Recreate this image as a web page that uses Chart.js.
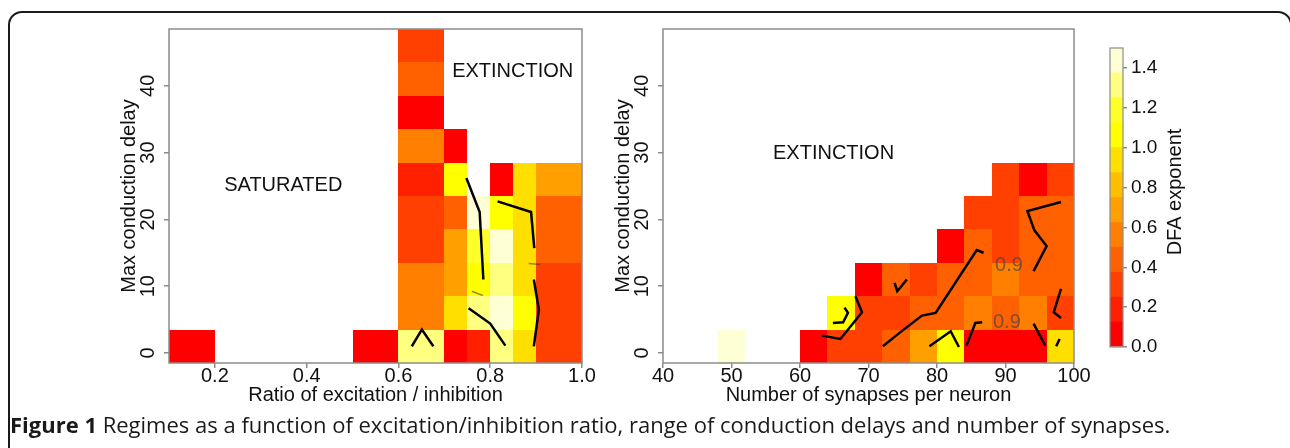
<!DOCTYPE html>
<html>
<head>
<meta charset="utf-8">
<script src="https://cdn.jsdelivr.net/npm/chart.js@4.4.1/dist/chart.umd.min.js"></script>
<style>
  html, body { margin: 0; padding: 0; background: #fff; }
  body { width: 1290px; height: 448px; position: relative; overflow: hidden; }
  .frame { position: absolute; left: 8px; top: 11px; width: 1284px; height: 480px;
           border: 2px solid #1a1a1a; border-radius: 14px; box-sizing: border-box; }
  canvas { position: absolute; }
  #caption { position: absolute; left: 10px; top: 409px; font-family: 'Open Sans', sans-serif;
             font-size: 22px; line-height: 30px; color: #1a1a1a; white-space: nowrap; }
  #caption b { font-weight: 700; }
</style>
</head>
<body>
<div class="frame"></div>
<canvas id="left" width="510" height="400" style="left:90px;top:16px"></canvas>
<canvas id="right" width="500" height="400" style="left:590px;top:16px"></canvas>
<canvas id="bar" width="120" height="340" style="left:1090px;top:30px"></canvas>
<div id="caption"><b>Figure 1</b> Regimes as a function of excitation/inhibition ratio, range of conduction delays and number of synapses.</div>

<script>
// heat.colors(12) and its breaks on the DFA exponent
var dfaPalette = ['#FF0000', '#FF2000', '#FF4000', '#FF6000', '#FF8000', '#FF9F00',
                  '#FFBF00', '#FFDF00', '#FFFF00', '#FFFF2A', '#FFFF80', '#FFFFD5'];
var dfaBreaks = [0, 0.125, 0.25, 0.375, 0.5, 0.625, 0.75, 0.875, 1.0, 1.125, 1.25, 1.375, 1.5];
var dfaTicks = [0, 0.2, 0.4, 0.6, 0.8, 1.0, 1.2, 1.4];
var dfaTickLabels = ['0.0', '0.2', '0.4', '0.6', '0.8', '1.0', '1.2', '1.4'];

// rows of both panels (max conduction delay), bottom to top
var delayEdges = [-1.5, 3.5, 8.5, 13.5, 18.5, 23.5, 28.5, 33.5, 38.5, 43.5, 48.5];
var delayTicks = [0, 10, 20, 30, 40];

// left panel: ratio of excitation / inhibition
var ratioEdges = [0.1, 0.2, 0.5, 0.6, 0.7, 0.75, 0.8, 0.85, 0.9, 1.0];
var ratioDfa = [
    [0.06],
    [],
    [0.06],
    [1.31, 0.56, 0.56, 0.31, 0.31, 0.19, 0.56, 0.06, 0.44, 0.31],
    [0.06, 0.94, 0.69, 0.69, 0.44, 1.06, 0.06],
    [0.19, 1.31, 1.1, 1.19, 1.44],
    [1.31, 1.44, 1.31, 1.44, 1.06, 0.06],
    [0.94, 1.06, 0.94, 0.94, 0.94, 0.94],
    [0.31, 0.31, 0.31, 0.44, 0.44, 0.7]
];
var ratioTicks = [0.2, 0.4, 0.6, 0.8, 1.0];
var ratioTickLabels = ['0.2', '0.4', '0.6', '0.8', '1.0'];

// right panel: number of synapses per neuron
var synapseEdges = [48, 52, 60, 64, 68, 72, 76, 80, 84, 88, 92, 96, 100];
var synapseDfa = [
    [1.44],
    [],
    [0.06],
    [0.31, 1.06],
    [0.31, 0.31, 0.06],
    [0.44, 0.31, 0.44],
    [0.69, 0.44, 0.31],
    [1.06, 0.44, 0.44, 0.1],
    [0.06, 0.56, 0.44, 0.44, 0.31],
    [0.06, 0.44, 0.56, 0.31, 0.31, 0.31],
    [0.06, 0.56, 0.44, 0.44, 0.44, 0.1],
    [0.94, 0.31, 0.44, 0.44, 0.44, 0.31]
];
var synapseTicks = [40, 50, 60, 70, 80, 90, 100];
var synapseTickLabels = ['40', '50', '60', '70', '80', '90', '100'];

// 0.9 contour pieces
var ratioContours = [
    [{x: 0.748, y: 26.2}, {x: 0.777, y: 21.1}, {x: 0.785, y: 11}],
    [{x: 0.816, y: 22.7}, {x: 0.889, y: 21.1}, {x: 0.896, y: 15.7}],
    [{x: 0.895, y: 11}, {x: 0.906, y: 6.5}, {x: 0.895, y: 1}],
    [{x: 0.753, y: 6.7}, {x: 0.8, y: 4.4}, {x: 0.833, y: 1.1}],
    [{x: 0.629, y: 1}, {x: 0.651, y: 3.5}, {x: 0.676, y: 1}]
];
var ratioFaint = [
    [{x: 0.884, y: 13.4}, {x: 0.909, y: 13.25}],
    [{x: 0.76, y: 9.25}, {x: 0.784, y: 8.6}]
];
var synapseContours = [
    [{x: 63.2, y: 2.6}, {x: 65.9, y: 2.1}, {x: 69.05, y: 6.1}, {x: 68.1, y: 8.5}],
    [{x: 64.8, y: 4.5}, {x: 66.3, y: 4.6}, {x: 67.0, y: 6.0}, {x: 66.5, y: 6.8}],
    [{x: 72.1, y: 1}, {x: 74.2, y: 2.75}, {x: 77.8, y: 5.6}, {x: 79.8, y: 6}, {x: 85.8, y: 15.4}, {x: 86.8, y: 15}],
    [{x: 73.8, y: 10.5}, {x: 74.2, y: 9.25}, {x: 75.6, y: 11}],
    [{x: 94.1, y: 12.25}, {x: 96.0, y: 16}, {x: 94.2, y: 18.4}, {x: 93.2, y: 21.25}, {x: 98.1, y: 22.6}],
    [{x: 98.1, y: 9.6}, {x: 97.05, y: 6.1}, {x: 98.1, y: 5.25}],
    [{x: 78.9, y: 1}, {x: 82.0, y: 3.25}, {x: 83.2, y: 0.9}],
    [{x: 84.3, y: 1.1}, {x: 85.6, y: 4.5}, {x: 86.6, y: 4.6}],
    [{x: 94.1, y: 4.4}, {x: 95.8, y: 1.1}],
    [{x: 97.4, y: 1}, {x: 97.9, y: 2.1}]
];
var synapseContourLabels = [
    {text: '0.9', x: 90.5, y: 13.1},
    {text: '0.9', x: 90.2, y: 4.5}
];

var ratioNotes = [
    {text: 'SATURATED', x: 0.349, y: 25},
    {text: 'EXTINCTION', x: 0.849, y: 42.1}
];
var synapseNotes = [
    {text: 'EXTINCTION', x: 64.9, y: 29.9}
];

var FONT = "'Liberation Sans', Arial, sans-serif";
var AXIS_GREY = '#8c8c8c';
Chart.defaults.font.family = FONT;
Chart.defaults.color = '#111';

function dfaColor(v) {
    for (var k = 0; k < dfaPalette.length; k++) {
        if (v < dfaBreaks[k + 1]) return dfaPalette[k];
    }
    return dfaPalette[dfaPalette.length - 1];
}

function cellPlugin(xEdges, columns, notes, contourLabels) {
    return {
        id: 'cells',
        beforeDatasetsDraw: function(chart) {
            var ctx = chart.ctx, xs = chart.scales.x, ys = chart.scales.y;
            ctx.save();
            columns.forEach(function(col, i) {
                var x0 = Math.round(xs.getPixelForValue(xEdges[i]));
                var x1 = Math.round(xs.getPixelForValue(xEdges[i + 1]));
                col.forEach(function(v, j) {
                    if (v == null) return;
                    var y0 = Math.round(ys.getPixelForValue(delayEdges[j + 1]));
                    var y1 = Math.round(ys.getPixelForValue(delayEdges[j]));
                    ctx.fillStyle = dfaColor(v);
                    ctx.fillRect(x0, y0, x1 - x0, y1 - y0);
                });
            });
            ctx.restore();
        },
        afterDatasetsDraw: function(chart) {
            var ctx = chart.ctx, xs = chart.scales.x, ys = chart.scales.y, a = chart.chartArea;
            ctx.save();
            ctx.textAlign = 'center';
            ctx.textBaseline = 'middle';
            ctx.font = '20px ' + FONT;
            ctx.fillStyle = 'rgba(70,70,70,0.7)';
            (contourLabels || []).forEach(function(l) {
                ctx.fillText(l.text, xs.getPixelForValue(l.x), ys.getPixelForValue(l.y));
            });
            ctx.fillStyle = '#111';
            notes.forEach(function(n) {
                ctx.fillText(n.text, xs.getPixelForValue(n.x), ys.getPixelForValue(n.y));
            });
            ctx.strokeStyle = AXIS_GREY;
            ctx.lineWidth = 1.5;
            ctx.strokeRect(a.left, a.top, a.right - a.left, a.bottom - a.top);
            ctx.restore();
        }
    };
}

function lineSets(pieces, color, width) {
    return pieces.map(function(p) {
        return {data: p, showLine: true, borderColor: color, borderWidth: width,
                pointRadius: 0, fill: false, tension: 0};
    });
}

function panel(id, o) {
    return new Chart(document.getElementById(id), {
        type: 'scatter',
        data: {datasets: o.datasets},
        options: {
            responsive: false,
            animation: false,
            events: [],
            layout: {padding: o.padding},
            plugins: {legend: {display: false}, tooltip: {enabled: false}},
            scales: {
                x: {
                    type: 'linear', min: o.xMin, max: o.xMax,
                    afterBuildTicks: function(s) { s.ticks = o.xTicks.map(function(v) { return {value: v}; }); },
                    afterFit: function(s) { s.height = 53; s.paddingLeft = 0; s.paddingRight = 0; },
                    ticks: {font: {size: 20, lineHeight: 1}, padding: -2, color: '#111',
                            callback: function(v, i) { return o.xTickLabels[i]; }},
                    grid: {drawOnChartArea: false, drawTicks: true, tickLength: 5, color: AXIS_GREY, lineWidth: 1.5},
                    border: {display: false},
                    title: {display: true, text: o.xTitle, font: {size: 20}, color: '#111', padding: {bottom: 9}}
                },
                y: {
                    type: 'linear', min: -1.5, max: 48.5,
                    afterBuildTicks: function(s) { s.ticks = delayTicks.map(function(v) { return {value: v}; }); },
                    afterFit: function(s) { s.width = o.yWidth; s.paddingTop = 0; s.paddingBottom = 0; },
                    ticks: {font: {size: 20, lineHeight: 1}, padding: 4, color: '#111',
                            minRotation: 90, maxRotation: 90, crossAlign: 'center'},
                    grid: {drawOnChartArea: false, drawTicks: true, tickLength: 5, color: AXIS_GREY, lineWidth: 1.5},
                    border: {display: false},
                    title: {display: true, text: 'Max conduction delay', font: {size: 20}, color: '#111',
                            padding: {top: o.yTitlePad}}
                }
            }
        },
        plugins: [cellPlugin(o.xEdges, o.columns, o.notes, o.contourLabels)]
    });
}

panel('left', {
    xMin: 0.1, xMax: 1.0, xTicks: ratioTicks, xTickLabels: ratioTickLabels,
    xTitle: 'Ratio of excitation / inhibition',
    xEdges: ratioEdges, columns: ratioDfa, notes: ratioNotes,
    datasets: lineSets(ratioContours, '#000', 2.5).concat(lineSets(ratioFaint, 'rgba(70,70,70,0.6)', 1.5)),
    padding: {top: 13, right: 18, left: 0, bottom: 0},
    yWidth: 79, yTitlePad: 27
});

panel('right', {
    xMin: 40, xMax: 100, xTicks: synapseTicks, xTickLabels: synapseTickLabels,
    xTitle: 'Number of synapses per neuron',
    xEdges: synapseEdges, columns: synapseDfa, notes: synapseNotes,
    contourLabels: synapseContourLabels,
    datasets: lineSets(synapseContours, '#000', 2.5),
    padding: {top: 13, right: 16, left: 0, bottom: 0},
    yWidth: 73, yTitlePad: 21
});

// colour key
new Chart(document.getElementById('bar'), {
    type: 'bar',
    data: {
        labels: ['DFA'],
        datasets: dfaPalette.map(function(c, k) {
            return {data: [[dfaBreaks[k], dfaBreaks[k + 1]]], backgroundColor: c, borderWidth: 0,
                    grouped: false, barPercentage: 1, categoryPercentage: 1};
        })
    },
    options: {
        responsive: false,
        animation: false,
        events: [],
        layout: {padding: {left: 20, top: 18, bottom: 23, right: 0}},
        plugins: {legend: {display: false}, tooltip: {enabled: false}},
        scales: {
            x: {display: false},
            y: {
                position: 'right', min: 0, max: 1.5,
                afterBuildTicks: function(s) { s.ticks = dfaTicks.map(function(v) { return {value: v}; }); },
                afterFit: function(s) { s.width = 87; s.paddingTop = 0; s.paddingBottom = 0; },
                ticks: {font: {size: 19}, padding: 4, color: '#111',
                        callback: function(v, i) { return dfaTickLabels[i]; }},
                grid: {drawOnChartArea: false, drawTicks: true, tickLength: 4, color: AXIS_GREY, lineWidth: 1.5},
                border: {display: false}
            }
        }
    },
    plugins: [{
        id: 'keyFrame',
        afterDraw: function(chart) {
            var ctx = chart.ctx, a = chart.chartArea;
            ctx.save();
            ctx.strokeStyle = AXIS_GREY;
            ctx.lineWidth = 1.2;
            ctx.strokeRect(a.left, a.top, a.right - a.left, a.bottom - a.top);
            ctx.translate(85, 162);
            ctx.rotate(-Math.PI / 2);
            ctx.font = '20px ' + FONT;
            ctx.fillStyle = '#111';
            ctx.textAlign = 'center';
            ctx.textBaseline = 'middle';
            ctx.fillText('DFA exponent', 0, 0);
            ctx.restore();
        }
    }]
});
</script>
</body>
</html>
